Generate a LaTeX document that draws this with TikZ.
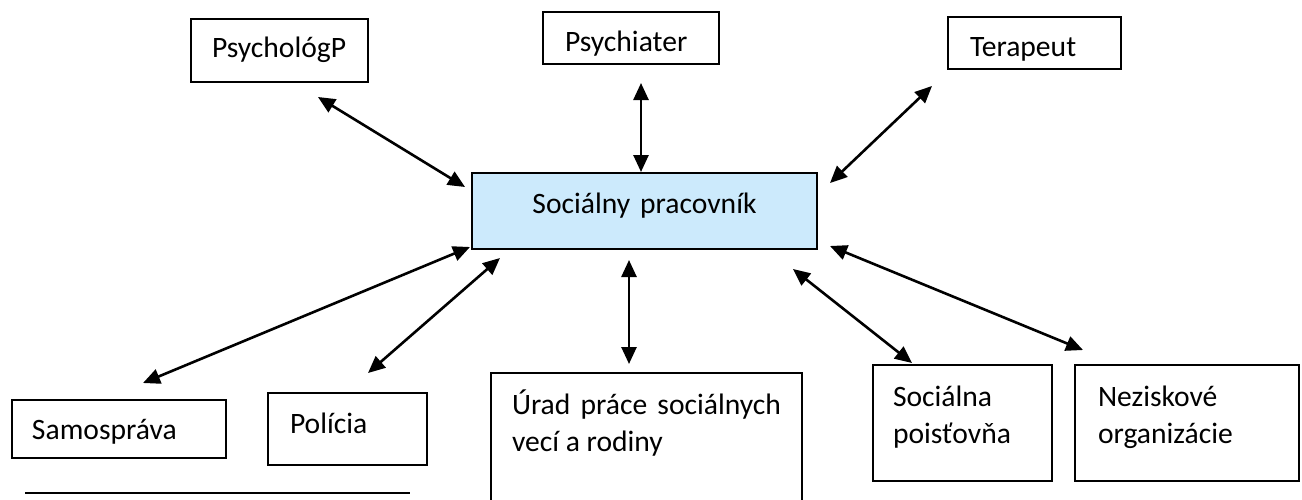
\documentclass[tikz,border=0pt]{standalone}
\usepackage{fontspec}
\setmainfont{Carlito}
\usetikzlibrary{arrows.meta}
\definecolor{boxblue}{RGB}{204,234,252}

\begin{document}
\begin{tikzpicture}[x=0.5pt,y=0.5pt,
        font=\fontsize{14.8}{18.5}\selectfont,
        box/.style={draw,line width=0.9pt,anchor=north west,outer sep=0pt,inner ysep=0pt,align=left},
        link/.style={<->,>={Triangle[length=8.5pt,width=7.5pt]},line width=1.3pt}]
                \useasboundingbox (0,0) rectangle (1302,-499);

                % boxes
                \node[box,text width=67.5pt,inner xsep=10.5pt,text height=19pt,text depth=12.5pt] (psycholog) at (191,-19) {PsychológP};
                \node[box,text width=66pt,inner xsep=11pt,text height=19.5pt,text depth=6.5pt] (psychiater) at (543,-12) {Psychiater};
                \node[box,text width=64.5pt,inner xsep=11pt,text height=19.5pt,text depth=6.5pt] (terapeut) at (948,-17) {Terapeut};
                \node[box,fill=boxblue,align=center,text width=152.5pt,inner xsep=10pt,text height=20pt,text depth=18pt] (pracovnik) at (472,-173) {Sociálny pracovník};
                \node[box,text width=87pt,inner xsep=10pt,text height=19.5pt,text depth=9.5pt] (samosprava) at (12,-400) {Samospráva};
                \node[box,text width=57.5pt,inner xsep=11pt,text height=20pt,text depth=16pt] (policia) at (268,-393) {Polícia};
                \node[box,align=justify,text width=134.5pt,inner xsep=10.5pt,text height=20.5pt,text depth=44.5pt] (urad) at (491,-373) {Úrad práce sociálnych\linebreak vecí a rodiny};
                \node[box,text width=69.5pt,inner xsep=10pt,text height=20.5pt,text depth=37.5pt] (poistovna) at (873,-365) {Sociálna\\poisťovňa};
                \node[box,text width=89pt,inner xsep=11.5pt,text height=20.5pt,text depth=37.5pt] (neziskove) at (1075,-365) {Neziskové\\organizácie};

                % arrow ends
                \coordinate (psycholog-end) at (318,-97);
                \coordinate (pracovnik-nw) at (465,-187);
                \coordinate (psychiater-end) at (641,-83);
                \coordinate (pracovnik-n) at (641,-172);
                \coordinate (terapeut-end) at (932,-86);
                \coordinate (pracovnik-ne) at (830,-183);
                \coordinate (samosprava-end) at (143,-383);
                \coordinate (pracovnik-sw) at (470,-247);
                \coordinate (policia-end) at (368,-373);
                \coordinate (pracovnik-ssw) at (500,-258);
                \coordinate (urad-end) at (629,-364);
                \coordinate (pracovnik-s) at (629,-260);
                \coordinate (poistovna-end) at (912,-363);
                \coordinate (pracovnik-sse) at (793,-269);
                \coordinate (neziskove-end) at (1083,-350);
                \coordinate (pracovnik-se) at (830,-246);

                \draw[link] (psycholog-end) -- (pracovnik-nw);
                \draw[link] (psychiater-end) -- (pracovnik-n);
                \draw[link] (terapeut-end) -- (pracovnik-ne);
                \draw[link] (samosprava-end) -- (pracovnik-sw);
                \draw[link] (policia-end) -- (pracovnik-ssw);
                \draw[link] (urad-end) -- (pracovnik-s);
                \draw[link] (poistovna-end) -- (pracovnik-sse);
                \draw[link] (neziskove-end) -- (pracovnik-se);

                \draw[line width=1.2pt] (25,-493) -- (410,-493);
            \end{tikzpicture}
\end{document}
